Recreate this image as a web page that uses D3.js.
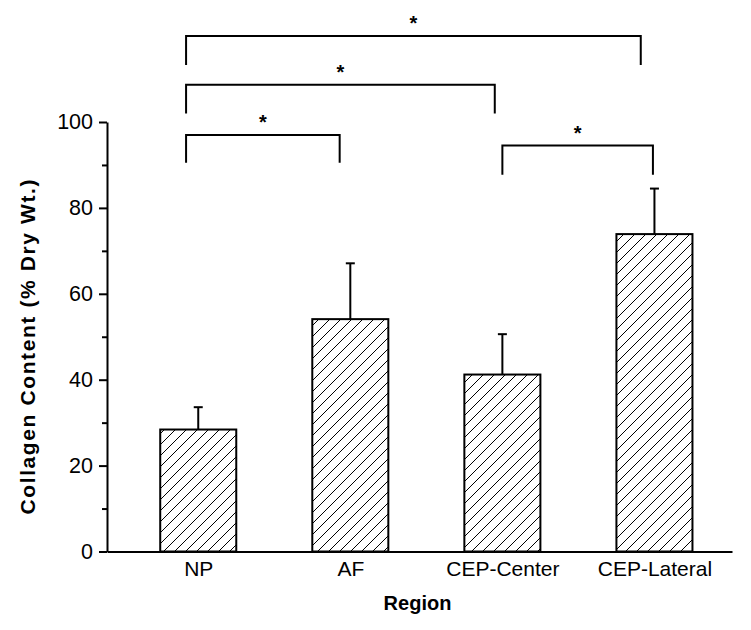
<!DOCTYPE html>
<html>
<head>
<meta charset="utf-8">
<script src="https://cdn.jsdelivr.net/npm/d3@7"></script>
<style>
  html, body { margin: 0; padding: 0; background: #fff; }
  svg { display: block; font-family: "Liberation Sans", Arial, sans-serif; }
</style>
</head>
<body>
<svg id="chart" width="751" height="630"></svg>
<script>
// ---- data ----
const categories = ["NP", "AF", "CEP-Center", "CEP-Lateral"];
const means = [28.4, 54.1, 41.2, 73.9];
const errors = [5.2, 13.0, 9.4, 10.6];
const yTicks = [0, 20, 40, 60, 80, 100];
const yMinorTicks = [10, 30, 50, 70, 90];
// significance brackets (category positions 1..4, y in % units)
const bracketStart = [0.92, 0.92, 0.92, 3.0];
const bracketEnd = [1.93, 2.95, 3.91, 3.99];
const bracketTop = [97.0, 108.7, 120.0, 94.5];
const bracketLeg = [90.5, 102.0, 113.3, 87.7];
const bracketLabel = ["*", "*", "*", "*"];

const svg = d3.select("#chart");

const x = d3.scaleLinear().domain([0.4, 4.51]).range([107, 732]);
const y = d3.scaleLinear().domain([0, 100]).range([551.5, 122]);
const barW = 0.5;

// hatch pattern
const defs = svg.append("defs");
const pat = defs.append("pattern")
  .attr("id", "hatch")
  .attr("patternUnits", "userSpaceOnUse")
  .attr("width", 11).attr("height", 11);
pat.append("rect").attr("width", 11).attr("height", 11).attr("fill", "#fff");
pat.append("path")
  .attr("d", "M-1,12 L12,-1 M-6.5,6.5 L6.5,-6.5 M4.5,17.5 L17.5,4.5")
  .attr("stroke", "#000").attr("stroke-width", 1);

const idx = categories.map((c, i) => i + 1);

// bars
svg.append("g").selectAll("rect")
  .data(idx)
  .join("rect")
  .attr("x", d => x(d - barW / 2))
  .attr("width", d => x(d + barW / 2) - x(d - barW / 2))
  .attr("y", d => y(means[d - 1]))
  .attr("height", d => y(0) - y(means[d - 1]))
  .attr("fill", "url(#hatch)")
  .attr("stroke", "#000")
  .attr("stroke-width", 2);

// error bars (upper only)
const eg = svg.append("g").attr("stroke", "#000").attr("stroke-width", 2);
eg.selectAll("line.v")
  .data(idx)
  .join("line")
  .attr("class", "v")
  .attr("x1", d => x(d)).attr("x2", d => x(d))
  .attr("y1", d => y(means[d - 1]))
  .attr("y2", d => y(means[d - 1] + errors[d - 1]));
eg.selectAll("line.c")
  .data(idx)
  .join("line")
  .attr("class", "c")
  .attr("x1", d => x(d) - 4.5).attr("x2", d => x(d) + 4.5)
  .attr("y1", d => y(means[d - 1] + errors[d - 1]))
  .attr("y2", d => y(means[d - 1] + errors[d - 1]));

// y axis
const yAxis = svg.append("g")
  .attr("transform", `translate(${x(0.4)},0)`)
  .call(d3.axisLeft(y).tickValues(yTicks).tickSize(8).tickSizeOuter(0).tickPadding(6));
yAxis.select(".domain").attr("stroke-width", 2);
yAxis.selectAll(".tick line").attr("stroke-width", 2);
yAxis.selectAll(".tick text")
  .attr("font-size", 21.5).attr("fill", "#000")
  .attr("font-family", "Liberation Sans, Arial, sans-serif");
// minor ticks
svg.append("g")
  .attr("transform", `translate(${x(0.4)},0)`)
  .call(d3.axisLeft(y).tickValues(yMinorTicks).tickSize(5).tickSizeOuter(0).tickFormat(""))
  .call(g => g.select(".domain").remove())
  .selectAll(".tick line").attr("stroke-width", 2);

// x axis
const xAxis = svg.append("g")
  .attr("transform", `translate(0,${y(0)})`)
  .call(d3.axisBottom(x).tickValues(idx).tickFormat(d => categories[d - 1]).tickSize(0).tickSizeOuter(0).tickPadding(10));
xAxis.select(".domain").attr("stroke-width", 2);
xAxis.selectAll(".tick text")
  .attr("font-size", 21).attr("fill", "#000")
  .attr("font-family", "Liberation Sans, Arial, sans-serif");

// axis titles
svg.append("text")
  .attr("x", (x(0.4) + x(4.51)) / 2 - 2)
  .attr("y", 610)
  .attr("text-anchor", "middle")
  .attr("font-size", 20).attr("font-weight", "bold")
  .text("Region");
svg.append("text")
  .attr("transform", `translate(35,347) rotate(-90)`)
  .attr("text-anchor", "middle")
  .attr("font-size", 21).attr("font-weight", "bold")
  .attr("textLength", 335).attr("lengthAdjust", "spacing")
  .text("Collagen Content (% Dry Wt.)");

// significance brackets
const bg = svg.append("g");
bracketStart.forEach((s, i) => {
  const e = bracketEnd[i];
  bg.append("path")
    .attr("d", `M${x(s)},${y(bracketLeg[i])} V${y(bracketTop[i])} H${x(e)} V${y(bracketLeg[i])}`)
    .attr("fill", "none").attr("stroke", "#000").attr("stroke-width", 2);
  bg.append("text")
    .attr("x", x((s + e) / 2))
    .attr("y", y(bracketTop[i]) - 6)
    .attr("text-anchor", "middle")
    .attr("font-size", 20).attr("font-weight", "bold")
    .text(bracketLabel[i]);
});
</script>
</body>
</html>
